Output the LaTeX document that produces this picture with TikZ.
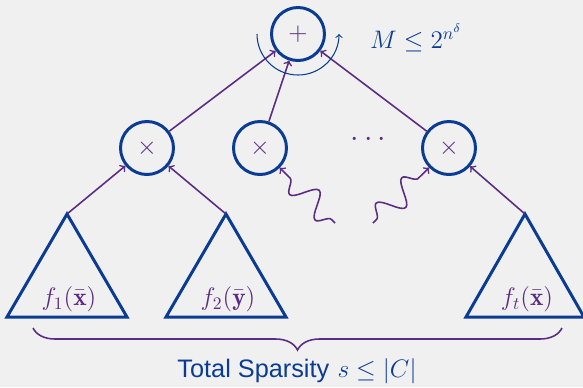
\documentclass[tikz,border=0pt]{standalone}
\usepackage{amsmath}
\usepackage{fontspec}
\usetikzlibrary{decorations.pathmorphing,decorations.pathreplacing}
\newfontfamily\labelsf{Liberation Sans}
\definecolor{cblue}{HTML}{0B3C93}
\definecolor{cpurple}{HTML}{5B2C83}
\definecolor{cbg}{HTML}{F0F0F0}

\begin{document}
\begin{tikzpicture}[x=0.02cm, y=0.02cm,
	gate/.style={circle, draw=cblue, line width=1.7pt, minimum size=1.06cm, inner sep=0pt, text=cpurple, font=\Large},
	wire/.style={->, cpurple, line width=0.9pt},
	tri/.style={draw=cblue, line width=1.7pt},
	wavy/.style={wire, decorate, decoration={snake, amplitude=2.4mm, segment length=7.2mm, pre length=1mm, post length=1.5mm}}]
	\fill[cbg] (0,0) rectangle (583,-387);
	\useasboundingbox (0,0) rectangle (583,-387);
	% gates
	\node[gate] (plus) at (298,-34) {$+$};
	\node[gate] (m1) at (147,-148) {$\times$};
	\node[gate] (m2) at (260,-148) {$\times$};
	\node[gate] (m3) at (449,-148) {$\times$};
	\node[text=cpurple, font=\LARGE] (dots) at (371,-140) {$\cdots$};
	\node[text=cblue, font=\Large, anchor=west] (bound) at (364,-38) {$M \le 2^{n^{\delta}}$};
	% sub-circuits
	\coordinate (t1) at (67,-214);
	\coordinate (t2) at (226,-214);
	\coordinate (t3) at (525,-214);
	\draw[tri] (t1) -- ++(-60,-103) -- ++(120,0) -- cycle;
	\draw[tri] (t2) -- ++(-60,-103) -- ++(120,0) -- cycle;
	\draw[tri] (t3) -- ++(-59,-103) -- ++(118,0) -- cycle;
	\node[text=cpurple, font=\Large] (f1) at (69,-299) {$f_1(\bar{\mathbf{x}})$};
	\node[text=cpurple, font=\Large] (f2) at (228,-299) {$f_2(\bar{\mathbf{y}})$};
	\node[text=cpurple, font=\Large] (ft) at (527,-299) {$f_t(\bar{\mathbf{x}})$};
	% wires
	\draw[wire] (m1) -- (plus);
	\draw[wire] (m2) -- (plus);
	\draw[wire] (m3) -- (plus);
	\draw[wire] (t1) -- (m1);
	\draw[wire] (t2) -- (m1);
	\draw[wire] (t3) -- (m3);
	\coordinate (w1) at (335,-223);
	\coordinate (w2) at (373,-223);
	\draw[wavy] (w1) -- (m2);
	\draw[wavy] (w2) -- (m3);
	\draw[cblue, line width=0.6pt, ->] (plus) ++(-41,0) arc[start angle=180, end angle=360, radius=41];
	% sparsity
	\coordinate (bl) at (33,-328);
	\coordinate (br) at (562,-328);
	\draw[cpurple, line width=0.9pt, decorate, decoration={brace, mirror, amplitude=4.4mm}] (bl) -- (br);
	\node[text=cblue, font=\Large] (total) at (297,-371) {{\labelsf Total Sparsity} $s \le |C|$};
\end{tikzpicture}
\end{document}
